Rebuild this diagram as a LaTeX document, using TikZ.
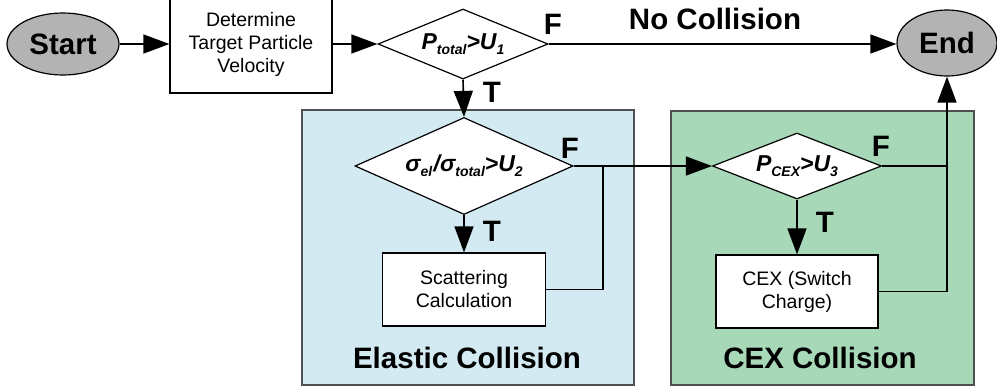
\documentclass[tikz,border=0pt]{standalone}
\usepackage{fontspec}
\setmainfont{Liberation Sans}
\usepackage{xcolor,tikz}
\usetikzlibrary{arrows.meta,positioning,calc,shapes.geometric}
\definecolor{termgray}{RGB}{179,179,179}
\definecolor{elasticblue}{RGB}{211,234,242}
\definecolor{cexgreen}{RGB}{167,216,184}
\definecolor{groupedge}{RGB}{80,80,80}
\newcommand{\lowtext}[1]{\raisebox{-0.2em}{\fontsize{14}{14}\selectfont #1}}

\begin{document}
\begin{tikzpicture}[x=1pt,y=-1pt,>={Triangle[length=26pt,width=19pt]},
 line/.style={line width=1.6pt},
 term/.style={ellipse,draw,line width=1.2pt,fill=termgray,inner sep=0pt,font=\fontsize{29.5}{32}\selectfont\bfseries},
 proc/.style={rectangle,draw,line width=1.2pt,fill=white,align=center,inner sep=0pt,font=\fontsize{19.5}{23}\selectfont},
 decide/.style={diamond,draw,line width=1.2pt,fill=white,inner sep=0pt,font=\fontsize{23}{26}\selectfont\bfseries\itshape},
 tag/.style={font=\fontsize{29.5}{32}\selectfont\bfseries},
 group/.style={draw=groupedge,line width=1.3pt}]
 \useasboundingbox (0,0) rectangle (997,389);
 \draw[group,fill=elasticblue] (302,110) rectangle (634,385);
 \draw[group,fill=cexgreen] (671,111) rectangle (974,385);
 \node[term,minimum width=112,minimum height=62] (start) at (63,44) {Start};
 \node[proc,minimum width=162,minimum height=98] (det) at (251,44) {Determine\\Target Particle\\Velocity};
 \node[decide,aspect=2.4,minimum width=170,minimum height=70] (d1) at (463,44) {P\lowtext{total}>U\lowtext{1}};
 \node[term,minimum width=100,minimum height=66] (end) at (947,43) {End};
 \node[decide,aspect=2.25,minimum width=218,minimum height=97] (d2) at (464,166) {σ\lowtext{el}\kern1.5pt/σ\lowtext{total}>U\lowtext{2}};
 \node[proc,minimum width=163,minimum height=73] (scat) at (464,289.5) {Scattering\\Calculation};
 \node[decide,aspect=2.56,minimum width=169,minimum height=66] (d3) at (797,166) {P\lowtext{CEX}>U\lowtext{3}};
 \node[proc,minimum width=162,minimum height=73] (cex) at (797,291.5) {CEX (Switch\\Charge)};
 \coordinate (joinA) at (603,166);
 \coordinate (joinB) at (d3.east -| end.south);
 \draw[line,->] (start) -- (det);
 \draw[line,->] (det) -- (d1);
 \draw[line,->] (d1.east) -- (d1.east -| end.west);
 \draw[line,->] (d1.south) -- (d2.north);
 \draw[line,->] (d2.south) -- (scat.north);
 \draw[line,->] (d2.east) -- (d3.west);
 \draw[line] (scat.east) -| (joinA);
 \draw[line,->] (d3.south) -- (cex.north);
 \draw[line] (d3.east) -- (joinB);
 \draw[line,->] (cex.east) -| (end.south);
 \node[tag] (nocoll) at (715,19) {No Collision};
 \node[tag] (f1) at (553,24) {F};
 \node[tag] (t1) at (492,92) {T};
 \node[tag] (f2) at (570,148) {F};
 \node[tag] (t2) at (492,231) {T};
 \node[tag] (f3) at (881,146) {F};
 \node[tag] (t3) at (825,222) {T};
 \node[tag] (elastic) at (467,358) {Elastic Collision};
 \node[tag] (cexcoll) at (820,358) {CEX Collision};
\end{tikzpicture}
\end{document}
